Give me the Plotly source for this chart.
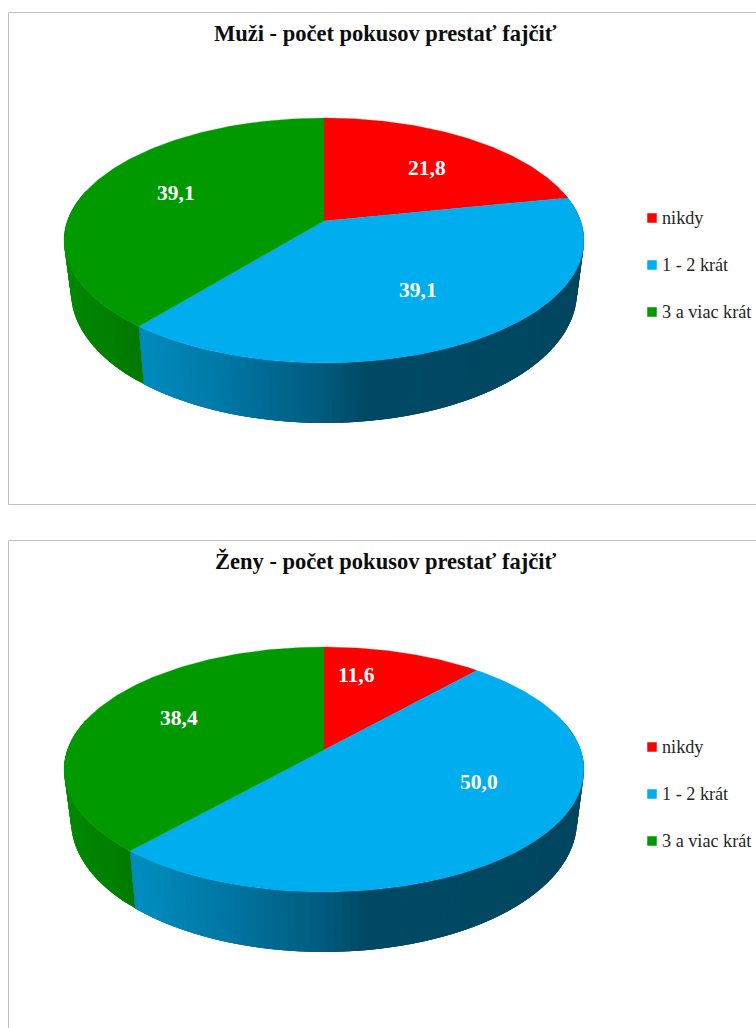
import numpy as np
import plotly.graph_objects as go

categories = ["nikdy", "1 - 2 krát", "3 a viac krát"]
muzi_values = [21.8, 39.1, 39.1]
zeny_values = [11.6, 50.0, 38.4]
muzi_title = "Muži - počet pokusov prestať fajčiť"
zeny_title = "Ženy - počet pokusov prestať fajčiť"

TOP_COLORS = ["#FF0000", "#00AEEF", "#009900"]
SIDE_STOPS = [
    [(60, (170, 0, 0)), (600, (170, 0, 0))],
    [(140, (0, 140, 190)), (230, (0, 118, 163)), (324, (0, 90, 125)), (365, (0, 74, 102)), (600, (0, 70, 95))],
    [(60, (0, 138, 0)), (150, (0, 118, 0))],
]
FONT = "Liberation Serif"
CX = 324
A, B, K = 256.7, 119.4, 0.159
SHRINK = 0.973


def project(theta, apex_y, r=1.0):
    u, v = r * np.sin(theta), r * np.cos(theta)
    w = 1 + K * v
    return CX + A * u / w, apex_y - B * v / w


def lower(theta, apex_y):
    x, y = project(theta, apex_y)
    return CX + (x - CX) * SHRINK, y + 50 - 10 * np.cos(theta)


def side_color(stops, x):
    xs = [s[0] for s in stops]
    rgb = [np.interp(x, xs, [s[1][i] for s in stops]) for i in range(3)]
    return "rgb(%d,%d,%d)" % tuple(rgb)


def poly(xs, ys, color, line=0):
    return go.Scatter(
        x=list(xs), y=list(ys), mode="lines", fill="toself", fillcolor=color,
        line=dict(color=color, width=line), hoverinfo="skip", showlegend=False,
    )


def add_pie(fig, values, apex_y):
    edges = np.radians(np.cumsum([0] + list(values)) / sum(values) * 360)
    step = np.radians(1.5)
    # sides: thin overlapping strips, painted before the top face
    for i in range(len(values)):
        lo, hi = max(edges[i], np.radians(75)), min(edges[i + 1], np.radians(285))
        if hi <= lo:
            continue
        n = max(2, int((hi - lo) / step))
        ts = np.linspace(lo, hi, n + 1)
        for j, t0 in enumerate(ts[:-1]):
            t1 = ts[min(j + 3, n)]
            arc = np.linspace(t0, t1, 6)
            xt, yt = project(arc, apex_y)
            xb, yb = lower(arc[::-1], apex_y)
            xs = np.r_[xt, xb, xt[0]]
            ys = np.r_[yt, yb, yt[0]]
            mid_x, _ = project((t0 + ts[j + 1]) / 2, apex_y)
            fig.add_trace(poly(xs, ys, side_color(SIDE_STOPS[i], mid_x), 0))
    # top face
    for i in range(len(values)):
        ts = np.linspace(edges[i], edges[i + 1], 120)
        xs, ys = project(ts, apex_y)
        ax, ay = project(0.0, apex_y, 0.0)
        fig.add_trace(poly(np.r_[ax, xs, ax], np.r_[ay, ys, ay], TOP_COLORS[i], 0.3))


def label(x, y, text):
    return dict(x=x, y=y, text=text, showarrow=False, xanchor="center", yanchor="middle",
                font=dict(family=FONT, size=21.5, color="white", weight="bold"))


def add_legend(fig, ys):
    fig.add_trace(go.Scatter(
        x=[652] * 3, y=ys, mode="markers",
        marker=dict(symbol="square", size=9.5, color=TOP_COLORS, line=dict(width=0)),
        hoverinfo="skip", showlegend=False,
    ))
    for y, c in zip(ys, categories):
        fig.add_annotation(x=660, y=y, text=c, showarrow=False, xanchor="left", yanchor="middle",
                           font=dict(family=FONT, size=18.2, color="#262626"))


fig = go.Figure()
add_pie(fig, muzi_values, 221)
add_pie(fig, zeny_values, 750)
add_legend(fig, [218, 265, 312])
add_legend(fig, [747, 794, 841])

fmt = lambda v: f"{v:.1f}".replace(".", ",")
for (x, y), v in zip([(427, 168), (418, 290), (176, 193)], muzi_values):
    fig.add_annotation(**label(x, y, fmt(v)))
for (x, y), v in zip([(356, 675), (479, 782), (179, 718)], zeny_values):
    fig.add_annotation(**label(x, y, fmt(v)))

for y, t in [(33, muzi_title), (561, zeny_title)]:
    fig.add_annotation(x=385, y=y, text=t, showarrow=False, xanchor="center", yanchor="middle",
                       font=dict(family=FONT, size=22.5, color="#0D0D0D", weight="bold"))

FRAME = dict(color="#BFBFBF", width=1)
fig.add_shape(type="rect", x0=8.5, x1=770, y0=12.5, y1=504.5, line=FRAME, layer="below")
fig.add_shape(type="rect", x0=8.5, x1=770, y0=540.5, y1=1100, line=FRAME, layer="below")

fig.update_layout(
    width=756, height=1028, margin=dict(l=0, r=0, t=0, b=0),
    paper_bgcolor="white", plot_bgcolor="white", showlegend=False,
    xaxis=dict(range=[0, 756], visible=False, fixedrange=True),
    yaxis=dict(range=[1028, 0], visible=False, fixedrange=True),
)
fig.write_html("out.html", config={"displayModeBar": False},
               post_script="document.body.style.margin='0';document.body.style.overflow='hidden';")
